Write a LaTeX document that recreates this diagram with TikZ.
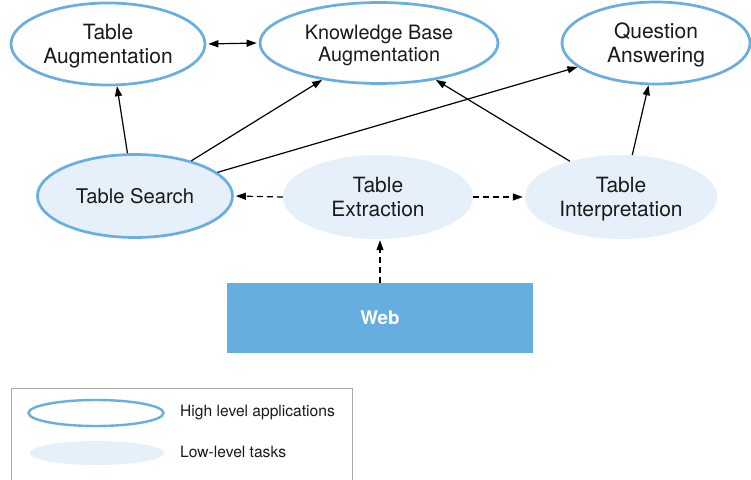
\documentclass[tikz,border=0pt]{standalone}
\usepackage{fontspec}
\setmainfont{TeX Gyre Heros}
\usetikzlibrary{shapes.geometric,arrows.meta}
\definecolor{bord}{HTML}{68AEE0}
\definecolor{lightfill}{HTML}{E6F0FA}
\definecolor{webfill}{HTML}{67AEE0}
\definecolor{txt}{HTML}{1A1A1A}
\definecolor{legbord}{HTML}{AAAAAA}
\begin{document}
\begin{tikzpicture}[x=1pt,y=-1pt,
  txtfont/.style={font=\fontsize{21}{24}\selectfont},
  highapp/.style={ellipse,draw=bord,line width=2.7pt,fill=white,inner sep=0pt,align=center,text=txt,text depth=0pt,txtfont},
  lowtask/.style={ellipse,fill=lightfill,inner sep=0pt,align=center,text=txt,text depth=0pt,txtfont},
  conn/.style={line width=1.2pt,-{Triangle[length=10pt,width=7pt]}},
  dconn/.style={conn,dash pattern=on 6pt off 4pt},
  legtext/.style={anchor=west,inner sep=0pt,text=txt,font=\fontsize{15.6}{18}\selectfont}
]
\useasboundingbox (0,0) rectangle (751,479);
\fill[white] (0,0) rectangle (751,479);

% high level applications
\node[highapp,minimum width=194pt,minimum height=82pt] (ta) at (108,44) {Table\\Augmentation};
\node[highapp,minimum width=238pt,minimum height=81pt,font=\fontsize{19.8}{22}\selectfont] (kb) at (379,43) {Knowledge Base\\Augmentation};
\node[highapp,minimum width=188pt,minimum height=82pt] (qa) at (656,43) {Question\\Answering};
\node[highapp,fill=lightfill,minimum width=195pt,minimum height=83pt,font=\fontsize{20.2}{24}\selectfont] (ts) at (135,196) {Table Search};

% low level tasks
\node[lowtask,minimum width=190pt,minimum height=84pt] (te) at (378,197) {Table\\Extraction};
\node[lowtask,minimum width=192pt,minimum height=84pt] (ti) at (621,197) {Table\\Interpretation};

% web
\node[fill=webfill,minimum width=306pt,minimum height=70pt,inner sep=0pt,text=white,font=\fontsize{18.8}{22}\selectfont\bfseries] (web) at (380,318) {Web};

% connectors
\draw[line width=1.2pt,{Triangle[length=10pt,width=7pt]}-{Triangle[length=10pt,width=7pt]},shorten <=2pt,shorten >=2pt] (ta.east) -- (kb.west);
\draw[conn] (ts.100) -- (ta.282);
\draw[conn] (ts.32) -- (kb.213);
\draw[conn] (ts.16) -- (qa.197);
\draw[conn] (ti.145) -- (kb.327);
\draw[conn] (ti.75) -- (qa.260);
\draw[dconn,shorten >=2pt] (te.west) -- (ts.east);
\draw[dconn,shorten >=2pt] (te.east) -- (ti.west);
\draw[dconn,shorten >=1pt] (web.north) -- (web.north |- te.south);

% legend
\coordinate (lbl) at (11,482);
\coordinate (ltl) at (11,388);
\coordinate (ltr) at (352,388);
\coordinate (lbr) at (352,482);
\draw[legbord,line width=1pt] (lbl) -- (ltl) -- (ltr) -- (lbr);
\node[ellipse,draw=bord,line width=2.4pt,inner sep=0pt,minimum width=135pt,minimum height=26pt] (leghigh) at (96,413) {};
\node[ellipse,fill=lightfill,inner sep=0pt,minimum width=134pt,minimum height=24pt] (leglow) at (97,453) {};
\node[legtext] (leghight) at (180,413) {High level applications};
\node[legtext] (leglowt) at (180,452) {Low-level tasks};
\end{tikzpicture}
\end{document}
